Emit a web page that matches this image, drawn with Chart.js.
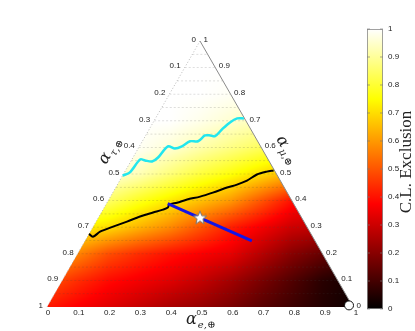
<!DOCTYPE html>
<html>
<head>
<meta charset="utf-8">
<script src="https://cdn.jsdelivr.net/npm/chart.js@4.4.1/dist/chart.umd.min.js"></script>
<style>
  body { margin: 0; background: #fff; }
</style>
</head>
<body>
<canvas id="ternaryChart" width="415" height="331"></canvas>
<script>
// contours, as [alpha_e, alpha_mu] pairs
const contour68 = [
  [0.0, 0.275], [0.018, 0.264], [0.032, 0.283], [0.065, 0.302], [0.101, 0.321],
  [0.134, 0.34], [0.169, 0.355], [0.196, 0.366], [0.208, 0.374], [0.207, 0.385],
  [0.229, 0.392], [0.256, 0.404], [0.293, 0.415], [0.327, 0.43], [0.364, 0.449],
  [0.391, 0.46], [0.416, 0.475], [0.437, 0.498], [0.464, 0.509], [0.484, 0.513]
];
const contour95 = [
  [0.0, 0.494], [0.018, 0.506], [0.027, 0.555], [0.045, 0.551], [0.07, 0.547],
  [0.082, 0.562], [0.093, 0.604], [0.12, 0.596], [0.139, 0.604], [0.156, 0.623],
  [0.182, 0.623], [0.194, 0.645], [0.211, 0.645], [0.228, 0.642], [0.238, 0.668],
  [0.251, 0.694], [0.267, 0.709], [0.289, 0.709]
];
const flavorLine = [[0.2, 0.389], [0.545, 0.249]];
const starPoint = [[0.332, 0.336]];
const circlePoint = [[0.984, 0.006]];

// C.L. exclusion sampled on the plot box: rows are heights 0..1 (bottom to top),
// columns are positions 0..1 along the base, both in steps of 0.1
const clRows = [
  [0.41, 0.37, 0.33, 0.29, 0.25, 0.22, 0.18, 0.13, 0.09, 0.05, 0.02],
  [0.50, 0.44, 0.39, 0.36, 0.33, 0.29, 0.24, 0.18, 0.12, 0.06, 0.03],
  [0.64, 0.57, 0.49, 0.44, 0.40, 0.37, 0.34, 0.27, 0.20, 0.15, 0.10],
  [0.78, 0.74, 0.70, 0.64, 0.58, 0.50, 0.42, 0.36, 0.30, 0.28, 0.25],
  [0.95, 0.90, 0.85, 0.78, 0.72, 0.66, 0.60, 0.50, 0.40, 0.34, 0.30],
  [1.00, 0.99, 0.97, 0.93, 0.87, 0.81, 0.76, 0.70, 0.64, 0.58, 0.52],
  [1.00, 1.00, 1.00, 0.99, 0.96, 0.92, 0.88, 0.84, 0.80, 0.75, 0.70],
  [1.00, 1.00, 1.00, 1.00, 1.00, 0.98, 0.955, 0.93, 0.90, 0.86, 0.82],
  [1.00, 1.00, 1.00, 1.00, 1.00, 1.00, 0.99, 0.98, 0.96, 0.93, 0.90],
  [1.00, 1.00, 1.00, 1.00, 1.00, 1.00, 1.00, 1.00, 1.00, 1.00, 1.00],
  [1.00, 1.00, 1.00, 1.00, 1.00, 1.00, 1.00, 1.00, 1.00, 1.00, 1.00]
];

const tickValues = [0, 0.1, 0.2, 0.3, 0.4, 0.5, 0.6, 0.7, 0.8, 0.9, 1];
const tickLabels = ["0", "0.1", "0.2", "0.3", "0.4", "0.5", "0.6", "0.7", "0.8", "0.9", "1"];
const gridHeights = [0.05, 0.1, 0.15, 0.2, 0.25, 0.3, 0.35, 0.4, 0.45, 0.5, 0.55, 0.6, 0.65, 0.7, 0.75, 0.8, 0.85, 0.9, 0.95];

// ternary (alpha_e, alpha_mu) -> plot x / y
function toXY(p) {
  return { x: p[0] + p[1] / 2, y: p[1] };
}

function clamp01(v) {
  return Math.max(0, Math.min(1, v));
}

// matlab "hot"
function hot(v) {
  v = clamp01(v);
  return [
    Math.round(255 * Math.min(1, v / 0.375)),
    Math.round(255 * clamp01((v - 0.375) / 0.375)),
    Math.round(255 * clamp01((v - 0.75) / 0.25))
  ];
}

function sampleCL(x, h) {
  const gx = clamp01(x) * 10, gy = clamp01(h) * 10;
  const i = Math.min(9, Math.floor(gx)), j = Math.min(9, Math.floor(gy));
  const fx = gx - i, fy = gy - j;
  const a = clRows[j][i] * (1 - fx) + clRows[j][i + 1] * fx;
  const b = clRows[j + 1][i] * (1 - fx) + clRows[j + 1][i + 1] * fx;
  return a * (1 - fy) + b * fy;
}

// white five point star used as the marker
function makeStar() {
  const c = document.createElement("canvas");
  c.width = 16;
  c.height = 16;
  const g = c.getContext("2d");
  g.beginPath();
  for (let k = 0; k < 10; k++) {
    const r = k % 2 === 0 ? 7 : 3;
    const a = -Math.PI / 2 + (k * Math.PI) / 5;
    g.lineTo(8 + r * Math.cos(a), 8.5 + r * Math.sin(a));
  }
  g.closePath();
  g.fillStyle = "#fff";
  g.fill();
  g.strokeStyle = "#777";
  g.lineWidth = 1;
  g.stroke();
  return c;
}

function drawAlphaLabel(ctx, sub) {
  ctx.fillStyle = "#222";
  ctx.textAlign = "left";
  ctx.textBaseline = "alphabetic";
  ctx.font = "italic 16px 'DejaVu Serif', serif";
  ctx.fillText("\u03b1", 0, 0);
  const w = ctx.measureText("\u03b1").width;
  ctx.font = "italic 10px 'DejaVu Serif', serif";
  ctx.fillText(sub, w + 1, 4);
}

const ternaryPlugin = {
  id: "ternary",
  beforeDatasetsDraw(chart) {
    const ctx = chart.ctx;
    const xs = chart.scales.x;
    const ys = chart.scales.y;
    const px = (x) => xs.getPixelForValue(x);
    const py = (h) => ys.getPixelForValue(h);

    // heat map on an offscreen canvas
    const left = Math.floor(px(0)), right = Math.ceil(px(1));
    const top = Math.floor(py(1)), bottom = Math.ceil(py(0));
    const w = right - left, hgt = bottom - top;
    const off = document.createElement("canvas");
    off.width = w;
    off.height = hgt;
    const octx = off.getContext("2d");
    const img = octx.createImageData(w, hgt);
    for (let j = 0; j < hgt; j++) {
      const h = ys.getValueForPixel(top + j + 0.5);
      for (let i = 0; i < w; i++) {
        const x = xs.getValueForPixel(left + i + 0.5);
        const c = hot(sampleCL(x, h));
        const k = (j * w + i) * 4;
        img.data[k] = c[0];
        img.data[k + 1] = c[1];
        img.data[k + 2] = c[2];
        img.data[k + 3] = 255;
      }
    }
    octx.putImageData(img, 0, 0);

    ctx.save();
    ctx.beginPath();
    ctx.moveTo(px(0), py(0));
    ctx.lineTo(px(1), py(0));
    ctx.lineTo(px(0.5), py(1));
    ctx.closePath();
    ctx.clip();
    ctx.drawImage(off, left, top);

    // dotted grid lines
    ctx.setLineDash([2, 2]);
    ctx.lineWidth = 0.8;
    ctx.strokeStyle = "rgba(70,70,70,0.22)";
    gridHeights.forEach((h) => {
      ctx.beginPath();
      ctx.moveTo(px(h / 2), py(h));
      ctx.lineTo(px(1 - h / 2), py(h));
      ctx.stroke();
    });
    ctx.restore();

    // triangle edges
    ctx.save();
    ctx.lineWidth = 1;
    ctx.setLineDash([1, 2]);
    ctx.strokeStyle = "#b8b8b8";
    ctx.beginPath();
    ctx.moveTo(px(0.5), py(1));
    ctx.lineTo(px(0), py(0));
    ctx.stroke();
    ctx.setLineDash([]);
    ctx.strokeStyle = "#8a8a8a";
    ctx.beginPath();
    ctx.moveTo(px(0.5), py(1));
    ctx.lineTo(px(1), py(0));
    ctx.stroke();
    ctx.restore();
  },
  afterDraw(chart) {
    const ctx = chart.ctx;
    const xs = chart.scales.x;
    const ys = chart.scales.y;
    const px = (x) => xs.getPixelForValue(x);
    const py = (h) => ys.getPixelForValue(h);

    ctx.save();
    ctx.font = "8px 'Liberation Sans', Arial, sans-serif";
    ctx.fillStyle = "#222";

    // bottom axis: alpha_e
    ctx.textAlign = "center";
    ctx.textBaseline = "middle";
    tickValues.forEach((v, i) => {
      ctx.fillText(tickLabels[i], px(v) + 1 + v * 2, py(0) + 6);
    });
    // left axis: alpha_tau, 0 at the top
    ctx.textAlign = "right";
    tickValues.forEach((v, i) => {
      const h = 1 - v;
      ctx.fillText(tickLabels[i], px(h / 2) - 4, py(h) - 1.5);
    });
    // right axis: alpha_mu, 1 at the top
    ctx.textAlign = "left";
    tickValues.forEach((v, i) => {
      ctx.fillText(tickLabels[i], px(1 - v / 2) + 3.5, py(v) - 1.5);
    });

    // axis titles
    ctx.save();
    ctx.translate(186, 324);
    drawAlphaLabel(ctx, "e,\u2295");
    ctx.restore();

    ctx.save();
    ctx.translate(106, 165);
    ctx.rotate(-Math.PI / 3);
    drawAlphaLabel(ctx, "\u03c4,\u2295");
    ctx.restore();

    ctx.save();
    ctx.translate(276, 139);
    ctx.rotate(Math.PI / 3);
    drawAlphaLabel(ctx, "\u03bc,\u2295");
    ctx.restore();

    // colour bar
    const cbX = 367, cbW = 16, cbTop = 29, cbBottom = 309;
    const grad = ctx.createLinearGradient(0, cbBottom, 0, cbTop);
    for (let k = 0; k <= 40; k++) {
      const c = hot(k / 40);
      grad.addColorStop(k / 40, "rgb(" + c[0] + "," + c[1] + "," + c[2] + ")");
    }
    ctx.fillStyle = grad;
    ctx.fillRect(cbX, cbTop, cbW, cbBottom - cbTop);
    ctx.strokeStyle = "#8a8a8a";
    ctx.lineWidth = 0.8;
    ctx.strokeRect(cbX + 0.5, cbTop + 0.5, cbW - 1, cbBottom - cbTop - 1);
    ctx.fillStyle = "#222";
    ctx.textAlign = "left";
    ctx.textBaseline = "middle";
    tickValues.forEach((v, i) => {
      const y = cbBottom - v * (cbBottom - cbTop);
      ctx.strokeStyle = "rgba(120,120,120,0.8)";
      ctx.beginPath();
      ctx.moveTo(cbX, y);
      ctx.lineTo(cbX + 3, y);
      ctx.moveTo(cbX + cbW - 3, y);
      ctx.lineTo(cbX + cbW, y);
      ctx.stroke();
      ctx.fillText(tickLabels[i], cbX + cbW + 5, y);
    });

    ctx.save();
    ctx.translate(407, 162);
    ctx.rotate(-Math.PI / 2);
    ctx.textAlign = "center";
    ctx.textBaseline = "middle";
    ctx.font = "17px 'Liberation Serif', 'DejaVu Serif', serif";
    ctx.fillStyle = "#222";
    ctx.fillText("C.L. Exclusion", 0, 0);
    ctx.restore();

    ctx.restore();
  }
};

const starImage = makeStar();

new Chart(document.getElementById("ternaryChart"), {
  type: "scatter",
  data: {
    datasets: [
      {
        data: starPoint.map(toXY),
        pointStyle: starImage,
        pointRadius: 7,
        clip: false
      },
      {
        data: circlePoint.map(toXY),
        pointStyle: "circle",
        pointRadius: 4.5,
        backgroundColor: "#fff",
        borderColor: "#111",
        borderWidth: 1,
        clip: false
      },
      {
        data: flavorLine.map(toXY),
        showLine: true,
        borderColor: "#1414e6",
        borderWidth: 3,
        pointRadius: 0,
        clip: false
      },
      {
        data: contour68.map(toXY),
        showLine: true,
        borderColor: "#000",
        borderWidth: 2,
        pointRadius: 0,
        tension: 0.3,
        clip: false
      },
      {
        data: contour95.map(toXY),
        showLine: true,
        borderColor: "#22e6ee",
        borderWidth: 2.5,
        pointRadius: 0,
        tension: 0.3,
        clip: false
      }
    ]
  },
  options: {
    responsive: false,
    animation: false,
    layout: { padding: { left: 47, right: 62, top: 41, bottom: 24 } },
    scales: {
      x: { type: "linear", min: 0, max: 1, display: false },
      y: { type: "linear", min: 0, max: 1, display: false }
    },
    plugins: {
      legend: { display: false },
      tooltip: { enabled: false }
    }
  },
  plugins: [ternaryPlugin]
});
</script>
</body>
</html>
